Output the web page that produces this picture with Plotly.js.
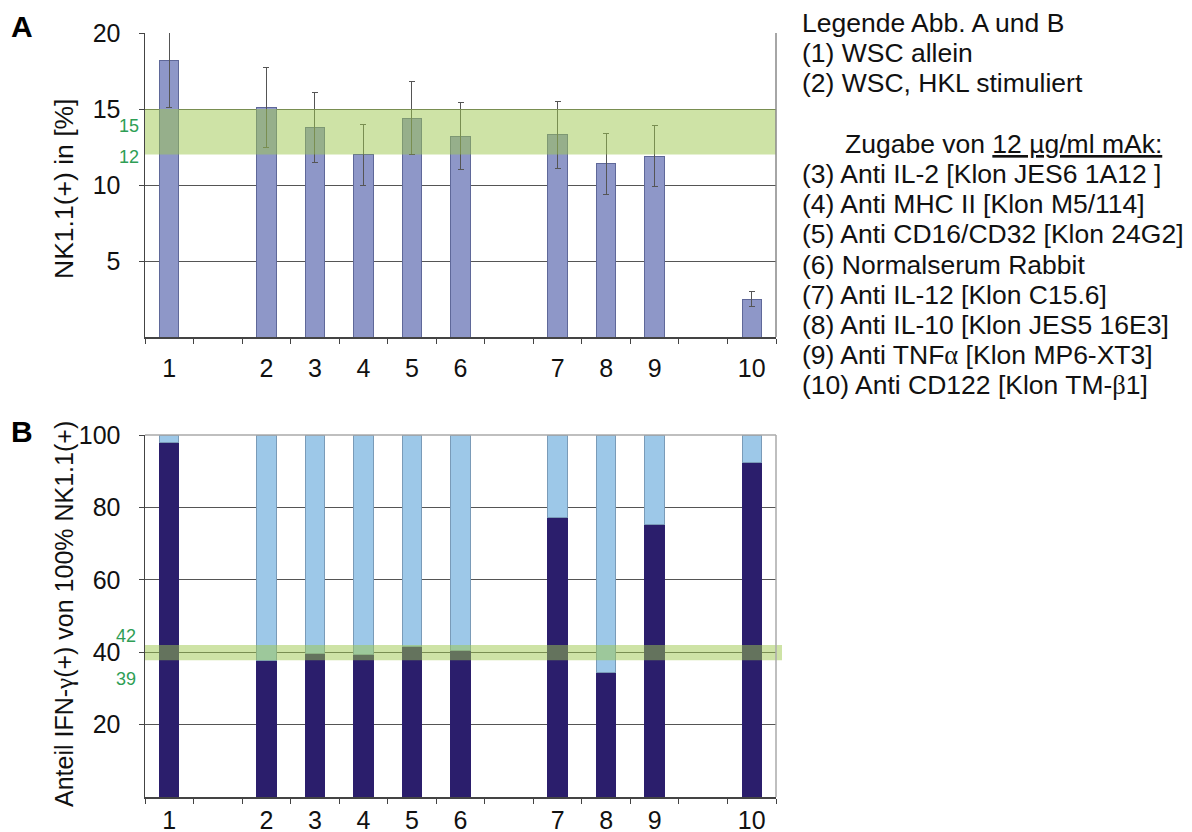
<!DOCTYPE html>
<html><head><meta charset="utf-8">
<script src="https://cdn.plot.ly/plotly-3.0.1.min.js"></script>
<style>html,body{margin:0;padding:0;background:#fff}#chart{width:1192px;height:832px}</style>
</head><body><div id="chart"></div>
<script>
// ---- data ----
const slotLabels = ['1','2','3','4','5','6','7','8','9','10'];
const slotPositions = [0,2,3,4,5,6,8,9,10,12];
const nk11Values = [18.2,15.1,13.8,12.0,14.4,13.2,13.3,11.4,11.9,2.5];
const nk11Errors = [3.1,2.6,2.3,2.0,2.4,2.2,2.2,2.0,2.0,0.5];
const ifngPositive = [97.8,37.6,39.6,39.5,41.5,40.6,77.3,34.5,75.4,92.5];
const ifngNegative = [2.2,62.4,60.4,60.5,58.5,59.4,22.7,65.5,24.6,7.5];
const bandA = [12,15];
const bandB = [37.8,42];
const bandLabelsA = ['15','12'];
const bandLabelsB = ['42','39'];
const yTicksA = [5,10,15,20];
const yTicksB = [20,40,60,80,100];
const yTitleA = 'NK1.1(+) in [%]';
const yTitleB = 'Anteil IFN-<span style="font-family:Liberation Serif">γ</span>(+) von 100% NK1.1(+)';
const legendLines = [
  'Legende Abb. A und B',
  '(1) WSC allein',
  '(2) WSC, HKL stimuliert',
  '',
  'Zugabe von <u>12 µg/ml mAk:</u>',
  '(3) Anti IL-2 [Klon JES6 1A12 ]',
  '(4) Anti MHC II [Klon M5/114]',
  '(5) Anti CD16/CD32 [Klon 24G2]',
  '(6) Normalserum Rabbit',
  '(7) Anti IL-12 [Klon C15.6]',
  '(8) Anti IL-10 [Klon JES5 16E3]',
  '(9) Anti TNF<span style="font-family:Liberation Serif">α</span> [Klon MP6-XT3]',
  '(10) Anti CD122 [Klon TM-<span style="font-family:Liberation Serif">β</span>1]'
];

// ---- layout helpers ----
const W = 1192, H = 832;
const px = x => x / W;
const py = y => 1 - y / H;
const FONT = 'Liberation Sans, Arial, sans-serif';
const boundaries = [];
for (let i = -0.5; i <= 12.5; i += 1) boundaries.push(i);

const xDom = [px(145), px(776)];
const yDomA = [py(337), py(33)];
const yDomB = [py(797), py(435)];

const traces = [
  {type:'bar', x:slotPositions, y:nk11Values, xaxis:'x', yaxis:'y', width:0.4,
   marker:{color:'#8e97c8', line:{color:'#5f6899', width:1}},
   error_y:{type:'data', array:nk11Errors, visible:true, color:'#555', thickness:1, width:3},
   hoverinfo:'skip', showlegend:false},
  {type:'bar', x:slotPositions, y:ifngPositive, xaxis:'x2', yaxis:'y2', width:0.4,
   marker:{color:'#2b1e6c', line:{color:'#2b1e6c', width:1}}, hoverinfo:'skip', showlegend:false},
  {type:'bar', x:slotPositions, y:ifngNegative, xaxis:'x2', yaxis:'y2', width:0.4,
   marker:{color:'#9dc8e8', line:{color:'#7a9bb8', width:1}}, hoverinfo:'skip', showlegend:false}
];

function xAxis(anchor, standoff) {
  return {domain:xDom, anchor:anchor, range:[-0.5,12.5], tickvals:slotPositions, ticktext:slotLabels,
    ticks:'', showgrid:false, zeroline:false, showline:true, linecolor:'#444', linewidth:1.5,
    tickfont:{family:FONT, size:25, color:'#111'}, ticklabelstandoff:standoff,
    minor:{tickvals:boundaries, ticks:'outside', ticklen:5, tickcolor:'#444', tickwidth:1, showgrid:false},
    fixedrange:true};
}
function yAxis(anchor, dom, range, vals) {
  return {domain:dom, anchor:anchor, range:range, tickvals:vals, ticks:'outside', ticklen:5,
    tickcolor:'#444', showgrid:true, gridcolor:'#555', gridwidth:1, zeroline:false,
    showline:true, linecolor:'#444', linewidth:1.5,
    tickfont:{family:FONT, size:25, color:'#111'}, ticklabelstandoff:13, fixedrange:true};
}

const annotations = [];
function addText(text, x, y, opts) {
  annotations.push(Object.assign({text:text, xref:'paper', yref:'paper', x:px(x), y:py(y),
    showarrow:false, xanchor:'left', yanchor:'middle', font:{family:FONT, size:26.5, color:'#111'}}, opts||{}));
}
addText('<b>A</b>', 9, 26, {font:{family:FONT, size:30, color:'#000'}});
addText('<b>B</b>', 9, 431, {font:{family:FONT, size:30, color:'#000'}});
addText(yTitleA, 64, 189, {textangle:-90, xanchor:'center', font:{family:FONT, size:26.5, color:'#111'}});
addText(yTitleB, 64, 614, {textangle:-90, xanchor:'center', font:{family:FONT, size:25, color:'#111'}});
const green = {family:FONT, size:18, color:'#2e9e55'};
addText(bandLabelsA[0], 141, 126, {xanchor:'right', font:green});
addText(bandLabelsA[1], 141, 157, {xanchor:'right', font:green});
addText(bandLabelsB[0], 138, 636, {xanchor:'right', font:green});
addText(bandLabelsB[1], 138, 679, {xanchor:'right', font:green});
legendLines.forEach((t, i) => {
  if (!t) return;
  addText(t, i === 4 ? 843 : 800, 23 + 30.2 * i);
});

const bandColor = 'rgba(157,200,78,0.5)';
const shapes = [
  {type:'rect', xref:'x domain', yref:'y', x0:0, x1:1, y0:bandA[0], y1:bandA[1], fillcolor:bandColor, line:{width:0}, layer:'above'},
  {type:'rect', xref:'paper', yref:'y2', x0:px(145), x1:px(782), y0:bandB[0], y1:bandB[1], fillcolor:bandColor, line:{width:0}, layer:'above'},
  {type:'line', xref:'x domain', yref:'y domain', x0:1, x1:1, y0:0, y1:1, line:{color:'#888', width:1.5}, layer:'above'},
  {type:'line', xref:'x2 domain', yref:'y2 domain', x0:1, x1:1, y0:0, y1:1, line:{color:'#aaa', width:1.5}, layer:'above'},
  {type:'line', xref:'x2 domain', yref:'y2 domain', x0:0, x1:1, y0:1, y1:1, line:{color:'#aaa', width:1.5}, layer:'above'}
];

const layout = {
  width:W, height:H, margin:{l:0, r:0, t:0, b:0}, paper_bgcolor:'#fff', plot_bgcolor:'#fff',
  barmode:'stack', showlegend:false, font:{family:FONT},
  xaxis:xAxis('y', 8), yaxis:yAxis('x', yDomA, [0,20], yTicksA),
  xaxis2:xAxis('y2', 0), yaxis2:yAxis('x2', yDomB, [0,100], yTicksB),
  annotations:annotations, shapes:shapes
};
Plotly.newPlot('chart', traces, layout, {staticPlot:true, displayModeBar:false});
</script></body></html>
